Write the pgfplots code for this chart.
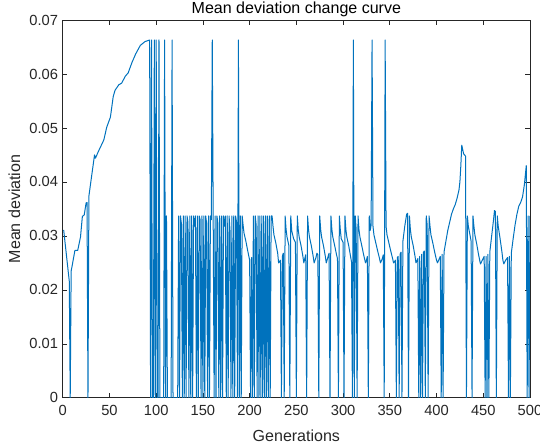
\documentclass[border=0pt]{standalone}
\usepackage{fontspec}
\setmainfont{Liberation Sans}
\usepackage{pgfplots}
\usepackage{pgfplotstable}
\pgfplotsset{compat=1.18}
\definecolor{mline}{rgb}{0,0.447,0.741}
\definecolor{axgray}{rgb}{0.15,0.15,0.15}

% generation / mean deviation (break points of the curve)
\pgfplotstableread{
x y
1 0.0311
7 0.0216
8 0
9 0.0235
10 0.0244
13 0.0273
16 0.0273
19 0.0298
21 0.0336
23 0.0339
25 0.0361
26 0.0362
27 0
28 0.0374
31 0.0412
34 0.0450
35 0.0444
38 0.0456
44 0.0478
47 0.0501
51 0.0520
54 0.0558
56 0.0570
60 0.0580
63 0.0583
67 0.0596
70 0.0602
74 0.0621
78 0.0637
83 0.0653
88 0.0660
93 0.0663
94 0
95 0.0663
96 0
97 0
98 0.0663
99 0
100 0.0663
101 0
102 0
103 0.0663
104 0
108 0
109 0.0663
110 0
111 0.0337
112 0
116 0
117 0.0663
118 0
123 0
124 0.0337
125 0
126 0.0337
127 0.0322
128 0
129 0.0337
130 0
131 0.0337
132 0
133 0.0337
134 0.0325
135 0
136 0.0337
137 0
138 0.0337
139 0
140 0.0337
141 0.0318
142 0.0337
143 0
144 0.0337
145 0
146 0.0337
147 0.0330
148 0
149 0.0337
150 0
151 0.0337
152 0
153 0.0337
154 0.0322
155 0
156 0.0337
157 0
158 0.0337
159 0.0330
160 0.0663
161 0.0330
162 0
163 0.0337
164 0
165 0.0337
166 0.0323
167 0
168 0.0337
169 0
170 0.0337
171 0
172 0.0337
173 0.0318
174 0.0337
175 0
176 0.0337
177 0
178 0.0337
179 0.0310
180 0
181 0.0337
182 0
183 0.0337
184 0
185 0.0337
186 0.0325
187 0
188 0.0663
189 0
190 0.0337
191 0
192 0.0337
193 0.0320
194 0.0305
196 0.0290
198 0.0272
200 0.0255
201 0
202 0.0260
203 0
204 0.0337
205 0
206 0.0337
207 0.0320
208 0
209 0.0337
210 0
211 0.0337
212 0
213 0.0337
214 0
215 0.0337
216 0
217 0.0337
218 0
219 0.0337
220 0
221 0.0337
222 0
223 0.0337
224 0.0337
225 0.0318
226 0.0302
228 0.0287
230 0.0268
231 0.0250
233 0.0255
234 0
235 0.0262
236 0.0268
237 0
238 0.0337
239 0.0312
240 0.0298
242 0.0282
243 0
244 0.0337
245 0.0310
247 0.0295
249 0.0288
250 0
251 0.0337
252 0.0312
253 0.0298
255 0.0282
257 0.0262
258 0.0250
259 0.0258
260 0.0265
261 0
262 0.0337
263 0.0312
264 0.0298
266 0.0282
268 0.0262
269 0.0250
271 0.0260
272 0.0268
273 0.0265
274 0
275 0.0337
276 0.0312
277 0.0298
279 0.0282
281 0.0262
282 0.0250
284 0.0262
285 0.0268
286 0
287 0.0337
288 0.0312
289 0.0298
291 0.0282
293 0.0265
294 0.0258
295 0
296 0.0337
297 0.0312
298 0.0295
300 0.0288
301 0
302 0.0337
303 0.0312
304 0.0298
306 0.0282
308 0.0262
309 0.0252
310 0
311 0.0663
312 0
313 0.0337
314 0.0312
315 0
316 0.0337
317 0.0312
318 0.0298
320 0.0282
322 0.0265
324 0.0250
325 0.0255
326 0.0262
327 0
328 0.0337
329 0.0310
330 0.0320
331 0.0663
332 0.0318
333 0.0302
335 0.0287
337 0.0272
339 0.0258
340 0.0250
342 0.0258
343 0.0265
344 0
345 0.0663
346 0.0318
347 0.0302
349 0.0287
351 0.0272
353 0.0258
354 0.0250
356 0.0255
357 0
358 0.0260
359 0.0262
360 0
361 0.0266
362 0.0270
363 0
364 0.0290
366 0.0318
368 0.0340
369 0.0342
370 0
371 0.0337
372 0.0312
373 0.0298
375 0.0282
377 0.0262
378 0.0250
380 0.0258
381 0
382 0.0262
383 0
384 0.0266
385 0
386 0.0270
387 0.0272
388 0
389 0.0337
390 0.0320
391 0
392 0.0337
393 0.0318
394 0.0302
396 0.0287
398 0.0270
400 0.0255
401 0.0250
403 0.0258
404 0.0262
405 0
406 0.0266
407 0
408 0.0270
410 0.0290
412 0.0310
414 0.0325
416 0.0340
418 0.0350
420 0.0358
422 0.0370
424 0.0385
425 0.0400
426 0.0430
427 0.0468
428 0.0460
429 0.0452
431 0.0448
432 0
433 0.0337
434 0.0318
436 0.0300
437 0.0290
438 0
439 0.0337
440 0.0318
441 0.0302
443 0.0285
445 0.0265
447 0.0248
449 0.0255
451 0.0262
452 0
453 0.0262
454 0
455 0.0266
456 0
457 0.0270
459 0.0300
461 0.0330
462 0.0347
463 0.0345
464 0
465 0.0337
466 0.0318
468 0.0295
470 0.0270
471 0.0255
472 0.0248
474 0.0255
476 0.0260
477 0
478 0.0262
479 0
480 0.0268
482 0.0295
484 0.0320
486 0.0340
488 0.0355
490 0.0362
492 0.0372
494 0.0395
496 0.0430
497 0
498 0.0337
499 0
500 0.0337
}\meandev

\begin{document}
\begin{tikzpicture}
\begin{axis}[
    at={(0,0)}, anchor=south west,
    scale only axis,
    width=350pt, height=283pt,
    xmin=0, xmax=500, ymin=0, ymax=0.07,
    scaled x ticks=false, scaled y ticks=false,
    xtick={0,50,100,150,200,250,300,350,400,450,500},
    xticklabels={0,50,100,150,200,250,300,350,400,450,500},
    ytick={0,0.01,0.02,0.03,0.04,0.05,0.06,0.07},
    yticklabels={0,0.01,0.02,0.03,0.04,0.05,0.06,0.07},
    tick align=inside,
    major tick length=3.5pt,
    tick style={axgray, line width=0.5pt},
    axis line style={axgray, line width=0.5pt},
    ticklabel style={font=\fontsize{11}{13}\selectfont, text=axgray},
    xticklabel style={yshift=-2pt},
    every axis title shift=0pt,
    title={Mean deviation change curve},
    title style={font=\fontsize{12}{14}\selectfont, text=black,
        at={(0.5,1)}, anchor=south, inner sep=1pt, yshift=1pt},
    xlabel={Generations},
    ylabel={Mean deviation},
    label style={font=\fontsize{12}{14}\selectfont, text=axgray},
    xlabel style={yshift=-4pt},
]
\addplot[mline, line width=0.75pt, line join=round] table {\meandev};
\end{axis}
\pgfresetboundingbox
\path[use as bounding box] (-47pt,-36.75pt) rectangle (357.5pt,298pt);
\end{tikzpicture}
\end{document}
